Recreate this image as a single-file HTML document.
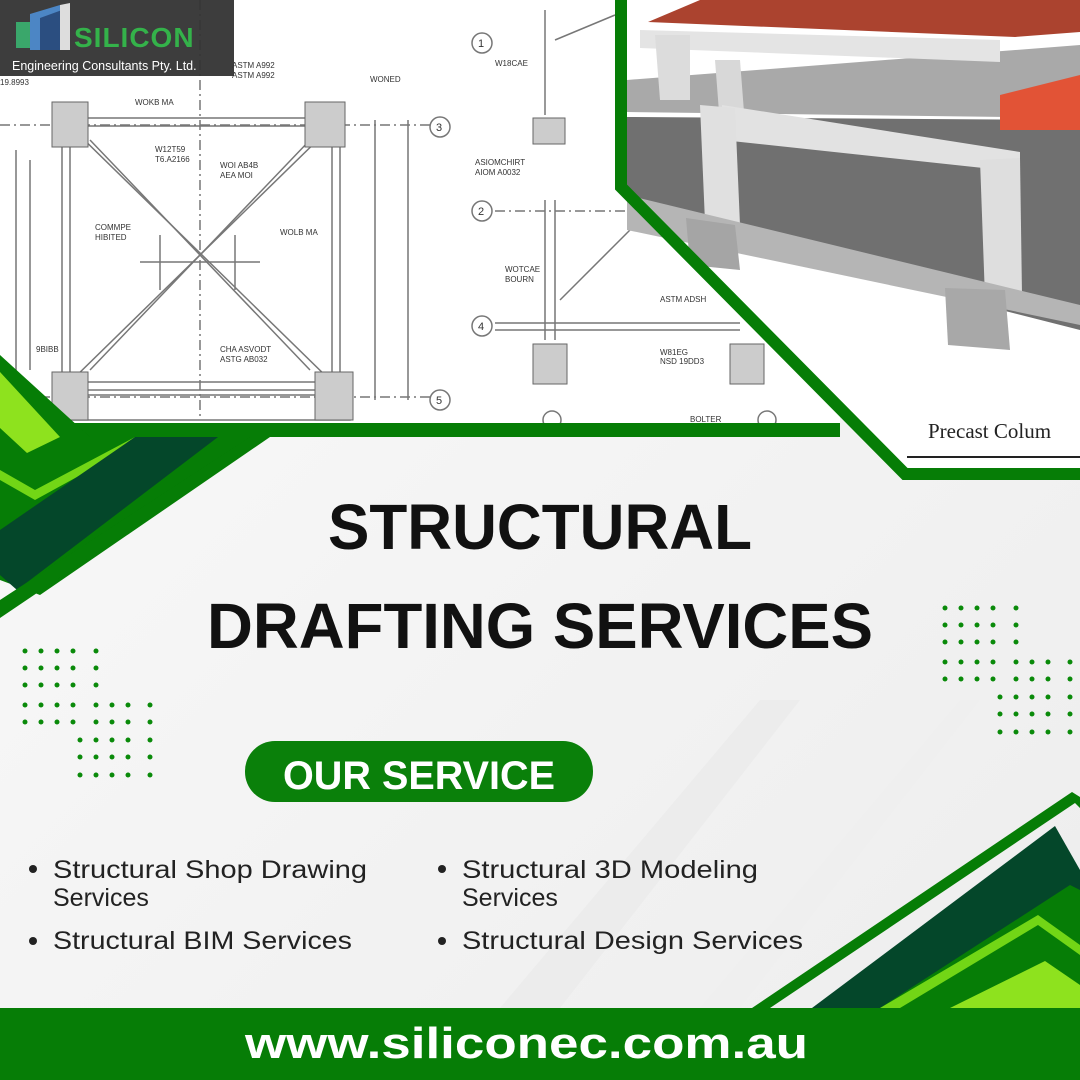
<!DOCTYPE html>
<html><head><meta charset="utf-8"><style>
html,body{margin:0;padding:0;width:1080px;height:1080px;overflow:hidden;background:#f4f4f4}
svg{display:block}
</style></head><body>
<svg width="1080" height="1080" viewBox="0 0 1080 1080" xmlns="http://www.w3.org/2000/svg" font-family="Liberation Sans, sans-serif">
<defs>
<linearGradient id="bg" x1="0" y1="0" x2="1" y2="1"><stop offset="0" stop-color="#fafafa"/><stop offset="1" stop-color="#ededed"/></linearGradient>
</defs>
<rect width="1080" height="1080" fill="url(#bg)"/>
<polygon points="500,1008 760,700 800,700 560,1008" fill="#ececec"/>
<polygon points="700,1008 960,700 980,700 740,1008" fill="#efefef"/>

<!-- drawing area top-left -->
<rect x="0" y="0" width="840" height="430" fill="#fff"/>
<g stroke="#777" stroke-width="1.5" fill="none">
  <rect x="62" y="118" width="278" height="272"/>
  <rect x="70" y="126" width="262" height="256"/>
  <line x1="70" y1="126" x2="332" y2="382"/>
  <line x1="332" y1="126" x2="70" y2="382"/>
  <line x1="90" y1="140" x2="310" y2="370"/>
  <line x1="310" y1="140" x2="90" y2="370"/>
  <line x1="200" y1="0" x2="200" y2="420" stroke-dasharray="10 4 2 4"/>
  <line x1="0" y1="125" x2="430" y2="125" stroke-dasharray="10 4 2 4"/>
  <line x1="0" y1="397" x2="430" y2="397" stroke-dasharray="10 4 2 4"/>
  <line x1="30" y1="160" x2="30" y2="370"/><line x1="16" y1="150" x2="16" y2="380"/>
  <line x1="375" y1="120" x2="375" y2="400"/><line x1="408" y1="120" x2="408" y2="400"/>
  <line x1="160" y1="235" x2="160" y2="290"/><line x1="235" y1="235" x2="235" y2="290"/>
  <line x1="140" y1="262" x2="260" y2="262"/>
  <rect x="60" y="395" width="290" height="25"/>
  <circle cx="440" cy="127" r="10"/><circle cx="440" cy="400" r="10"/>
  <circle cx="482" cy="43" r="10"/><circle cx="482" cy="211" r="10"/><circle cx="482" cy="326" r="10"/>
  <circle cx="552" cy="420" r="9"/><circle cx="767" cy="420" r="9"/>
  <line x1="545" y1="10" x2="545" y2="115"/><line x1="555" y1="40" x2="615" y2="15"/>
  <line x1="545" y1="200" x2="545" y2="340"/><line x1="555" y1="200" x2="555" y2="340"/>
  <line x1="495" y1="211" x2="640" y2="211" stroke-dasharray="10 4 2 4"/>
  <line x1="495" y1="323" x2="740" y2="323"/><line x1="495" y1="330" x2="740" y2="330"/>
  <line x1="560" y1="300" x2="640" y2="220"/>
</g>
<g fill="#ccc" stroke="#666" stroke-width="1">
  <rect x="52" y="102" width="36" height="45"/><rect x="305" y="102" width="40" height="45"/>
  <rect x="52" y="372" width="36" height="48"/><rect x="315" y="372" width="38" height="48"/>
  <rect x="533" y="118" width="32" height="26"/><rect x="533" y="344" width="34" height="40"/><rect x="730" y="344" width="34" height="40"/>
</g>
<g font-size="8" fill="#333">
  <text x="232" y="68">ASTM A992</text><text x="232" y="78">ASTM A992</text><text x="370" y="82">WONED</text>
  <text x="135" y="105">WOKB MA</text><text x="155" y="152">W12T59</text><text x="155" y="162">T6.A2166</text>
  <text x="220" y="168">WOI AB4B</text><text x="220" y="178">AEA MOI</text><text x="95" y="230">COMMPE</text><text x="95" y="240">HIBITED</text>
  <text x="280" y="235">WOLB MA</text><text x="220" y="352">CHA ASVODT</text><text x="220" y="362">ASTG AB032</text>
  <text x="475" y="165">ASIOMCHIRT</text><text x="475" y="175">AIOM A0032</text><text x="505" y="272">WOTCAE</text><text x="505" y="282">BOURN</text>
  <text x="660" y="302">ASTM ADSH</text><text x="660" y="355">W81EG</text><text x="660" y="364">NSD 19DD3</text>
  <text x="690" y="422">BOLTER</text><text x="495" y="66">W18CAE</text><text x="36" y="352">9BIBB</text>
  <text x="436" y="131" font-size="11">3</text><text x="436" y="404" font-size="11">5</text><text x="478" y="47" font-size="11">1</text>
  <text x="478" y="215" font-size="11">2</text><text x="478" y="330" font-size="11">4</text><text x="0" y="85">19.8993</text>
</g>

<!-- photo panel -->
<polygon points="621,0 1080,0 1080,474 905,474 621,187" fill="#fff"/>
<polygon points="627,117 1080,120 1080,330 627,215" fill="#707070"/>
<polygon points="627,80 1080,45 1080,118 627,112" fill="#a9a9a9"/>
<polygon points="700,0 1080,0 1080,32 1015,37 648,22" fill="#ab432f"/>
<polygon points="1000,95 1080,75 1080,130 1000,130" fill="#e25336"/>
<polygon points="640,30 1000,40 1000,62 640,48" fill="#e4e4e4"/>
<polygon points="655,35 690,35 690,100 660,100" fill="#dcdcdc"/>
<polygon points="715,60 740,60 745,125 720,125" fill="#d8d8d8"/>
<polygon points="722,105 1020,152 1020,172 722,140" fill="#e2e2e2"/>
<polygon points="700,105 735,108 740,225 705,222" fill="#e0e0e0"/>
<polygon points="980,160 1020,158 1022,295 985,298" fill="#dedede"/>
<polygon points="627,195 1080,305 1080,325 627,230" fill="#b5b5b5"/>
<polygon points="686,218 735,225 740,270 690,265" fill="#a5a5a5"/>
<polygon points="945,288 1005,290 1010,350 948,345" fill="#a8a8a8"/>
<polygon points="940,240 960,220 1000,228" fill="none"/>
<text x="928" y="438" font-family="Liberation Serif, serif" font-size="21" fill="#222">Precast Colum</text>
<line x1="907" y1="457" x2="1080" y2="457" stroke="#222" stroke-width="2"/>
<polyline points="621,0 621,187 905,474 1080,474" fill="none" stroke="#067d06" stroke-width="12"/>

<!-- green band under drawing -->
<rect x="0" y="423" width="840" height="14" fill="#067d06"/>

<!-- logo -->
<rect x="0" y="0" width="234" height="76" fill="#333" opacity="0.95"/>
<polygon points="16,22 30,22 30,48 16,48" fill="#3aa76b"/>
<polygon points="30,14 60,5 70,5 70,50 30,50" fill="#4c86c5"/>
<polygon points="40,18 62,10 62,50 40,50" fill="#2b4e80"/>
<polygon points="60,5 70,3 70,50 60,50" fill="#ddd"/>
<text x="74" y="47" font-size="28" font-weight="bold" fill="#34b24a" letter-spacing="1">SILICON</text>
<text x="12" y="70" font-size="12.5" fill="#fff">Engineering Consultants Pty. Ltd.</text>

<!-- left chevrons -->
<polygon points="0,355 90,437 270,437 40,595 0,580" fill="#067d06"/>
<polygon points="0,372 60,437 27,453 0,428" fill="#8ee21e"/>
<polygon points="0,470 35,490 135,437 150,437 35,500 0,480" fill="#72d616"/>
<polygon points="135,437 218,437 17,590 0,575 0,530" fill="#04472a"/>
<polygon points="250,437 268,437 0,618 0,600" fill="#067d06"/>

<!-- right chevrons -->
<polygon points="752,1008 1072,792 1080,797 1080,808 1075,803 770,1008" fill="#067d06"/>
<polygon points="812,1008 1055,826 1080,870 1080,1008" fill="#04472a"/>
<polygon points="880,1008 1070,885 1080,890 1080,1008" fill="#067d06"/>
<polygon points="880,1008 1038,915 1080,945 1080,955 1038,925 900,1008" fill="#72d616"/>
<polygon points="950,1008 1045,961 1080,985 1080,1008" fill="#8ee21e"/>

<!-- dots -->
<g fill="#0a8a0a">
<g id="dl">
<circle cx="25" cy="651" r="2.5"/><circle cx="41" cy="651" r="2.5"/><circle cx="57" cy="651" r="2.5"/><circle cx="73" cy="651" r="2.5"/><circle cx="96" cy="651" r="2.5"/>
<circle cx="25" cy="668" r="2.5"/><circle cx="41" cy="668" r="2.5"/><circle cx="57" cy="668" r="2.5"/><circle cx="73" cy="668" r="2.5"/><circle cx="96" cy="668" r="2.5"/>
<circle cx="25" cy="685" r="2.5"/><circle cx="41" cy="685" r="2.5"/><circle cx="57" cy="685" r="2.5"/><circle cx="73" cy="685" r="2.5"/><circle cx="96" cy="685" r="2.5"/>
<circle cx="25" cy="705" r="2.5"/><circle cx="41" cy="705" r="2.5"/><circle cx="57" cy="705" r="2.5"/><circle cx="73" cy="705" r="2.5"/><circle cx="96" cy="705" r="2.5"/><circle cx="112" cy="705" r="2.5"/><circle cx="128" cy="705" r="2.5"/><circle cx="150" cy="705" r="2.5"/>
<circle cx="25" cy="722" r="2.5"/><circle cx="41" cy="722" r="2.5"/><circle cx="57" cy="722" r="2.5"/><circle cx="73" cy="722" r="2.5"/><circle cx="96" cy="722" r="2.5"/><circle cx="112" cy="722" r="2.5"/><circle cx="128" cy="722" r="2.5"/><circle cx="150" cy="722" r="2.5"/>
<circle cx="80" cy="740" r="2.5"/><circle cx="96" cy="740" r="2.5"/><circle cx="112" cy="740" r="2.5"/><circle cx="128" cy="740" r="2.5"/><circle cx="150" cy="740" r="2.5"/>
<circle cx="80" cy="757" r="2.5"/><circle cx="96" cy="757" r="2.5"/><circle cx="112" cy="757" r="2.5"/><circle cx="128" cy="757" r="2.5"/><circle cx="150" cy="757" r="2.5"/>
<circle cx="80" cy="775" r="2.5"/><circle cx="96" cy="775" r="2.5"/><circle cx="112" cy="775" r="2.5"/><circle cx="128" cy="775" r="2.5"/><circle cx="150" cy="775" r="2.5"/>
</g>
<use href="#dl" transform="translate(920,-43)"/>
</g>

<!-- headline -->
<text x="328" y="549" font-size="64" font-weight="bold" fill="#111" textLength="424" lengthAdjust="spacingAndGlyphs">STRUCTURAL</text>
<text x="207" y="648" font-size="64" font-weight="bold" fill="#111" textLength="666" lengthAdjust="spacingAndGlyphs">DRAFTING SERVICES</text>

<!-- our service -->
<rect x="245" y="741" width="348" height="61" rx="30" fill="#0a800a"/>
<text x="283" y="789" font-size="40" font-weight="bold" fill="#fff" textLength="272" lengthAdjust="spacingAndGlyphs">OUR SERVICE</text>

<!-- bullets -->
<g font-size="25" fill="#222">
<circle cx="33" cy="869" r="4" fill="#222"/><circle cx="442" cy="869" r="4" fill="#222"/>
<circle cx="33" cy="941" r="4" fill="#222"/><circle cx="442" cy="941" r="4" fill="#222"/>
<text x="53" y="878" textLength="314" lengthAdjust="spacingAndGlyphs">Structural Shop Drawing</text>
<text x="53" y="906">Services</text>
<text x="53" y="949" textLength="299" lengthAdjust="spacingAndGlyphs">Structural BIM Services</text>
<text x="462" y="878" textLength="296" lengthAdjust="spacingAndGlyphs">Structural 3D Modeling</text>
<text x="462" y="906">Services</text>
<text x="462" y="949" textLength="341" lengthAdjust="spacingAndGlyphs">Structural Design Services</text>
</g>

<!-- footer -->
<rect x="0" y="1008" width="1080" height="72" fill="#067d06"/>
<text x="245" y="1058" font-size="44" font-weight="bold" fill="#fff" textLength="563" lengthAdjust="spacingAndGlyphs">www.siliconec.com.au</text>
</svg>
</body></html>
